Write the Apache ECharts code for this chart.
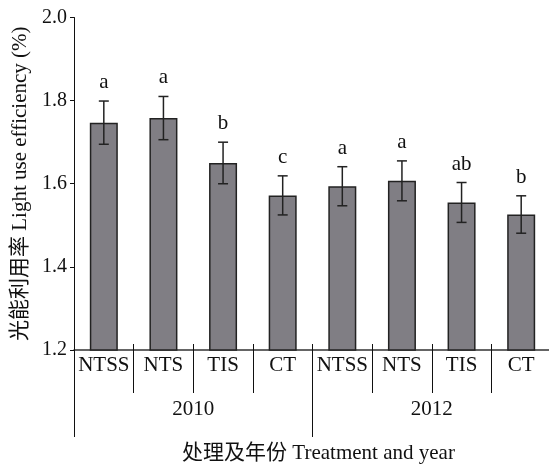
<!DOCTYPE html>
<html>
<head>
<meta charset="utf-8">
<script src="https://cdn.jsdelivr.net/npm/echarts@6/dist/echarts.min.js"></script>
<style>html,body{margin:0;padding:0;background:#fff;}#chart{width:549px;height:465px;}</style>
</head>
<body>
<div id="chart"></div>
<script>
const treatments = ['NTSS', 'NTS', 'TIS', 'CT', 'NTSS', 'NTS', 'TIS', 'CT'];
const years = ['2010', '2012'];
const lue = [1.747, 1.758, 1.650, 1.572, 1.594, 1.607, 1.555, 1.526];
const lueErr = [0.052, 0.052, 0.050, 0.047, 0.047, 0.048, 0.048, 0.045];
const letters = ['a', 'a', 'b', 'c', 'a', 'a', 'ab', 'b'];
const yTicks = [1.2, 1.4, 1.6, 1.8, 2.0];

const FONT = '"Liberation Serif", "Noto Sans CJK SC", serif';
const chart = echarts.init(document.getElementById('chart'));

const catIdx = treatments.map((_, i) => String(i));

chart.setOption({
  animation: false,
  backgroundColor: '#fff',
  grid: { left: 74, right: -2, top: 17.5, bottom: 115, containLabel: false, outerBoundsMode: 'none' },
  xAxis: [
    {
      type: 'category', data: catIdx, position: 'bottom',
      axisLine: { show: true, lineStyle: { color: '#333', width: 1.5 } },
      axisTick: { show: false },
      axisLabel: { formatter: (v) => treatments[+v], fontFamily: FONT, fontSize: 21, color: '#111', margin: 5, interval: 0 }
    },
    {
      type: 'category', data: catIdx, position: 'bottom', offset: -6,
      axisLine: { show: false },
      axisTick: { show: true, length: 49, lineStyle: { color: '#111', width: 1 } },
      axisLabel: { show: false }
    },
    {
      type: 'category', data: years, position: 'bottom',
      axisLine: { show: false },
      axisTick: { show: true, length: 87, lineStyle: { color: '#111', width: 1 } },
      axisLabel: { fontFamily: FONT, fontSize: 21, color: '#111', margin: 49 },
      name: '处理及年份 Treatment and year', nameLocation: 'middle', nameGap: 93,
      nameTextStyle: { fontFamily: FONT, fontSize: 21, color: '#111', padding: [0, 0, 0, 12] }
    }
  ],
  yAxis: {
    type: 'value', min: yTicks[0], max: yTicks[yTicks.length - 1], interval: 0.2,
    axisLine: { show: true, lineStyle: { color: '#111', width: 1 } },
    axisTick: { show: true, length: 4, lineStyle: { color: '#111' } },
    splitLine: { show: false },
    axisLabel: { formatter: (v) => v.toFixed(1), fontFamily: FONT, fontSize: 20, color: '#111', margin: 7 },
    name: '光能利用率 Light use efficiency (%)', nameLocation: 'middle', nameGap: 40,
    nameTextStyle: { fontFamily: FONT, fontSize: 21, color: '#111' }
  },
  series: [
    {
      type: 'bar', xAxisIndex: 0, data: lue, barWidth: 28,
      itemStyle: { color: '#807e84', borderColor: '#222', borderWidth: 1.5 }
    },
    {
      type: 'custom', xAxisIndex: 0, z: 10,
      data: lue.map((v, i) => [i, v - lueErr[i], v + lueErr[i]]),
      renderItem: function (params, api) {
        const i = api.value(0);
        const lo = api.coord([i, api.value(1)]);
        const hi = api.coord([i, api.value(2)]);
        const x = lo[0], hw = 5;
        const st = { stroke: '#222', lineWidth: 1.5 };
        return {
          type: 'group',
          children: [
            { type: 'line', shape: { x1: x, y1: lo[1], x2: x, y2: hi[1] }, style: st },
            { type: 'line', shape: { x1: x - hw, y1: lo[1], x2: x + hw, y2: lo[1] }, style: st },
            { type: 'line', shape: { x1: x - hw, y1: hi[1], x2: x + hw, y2: hi[1] }, style: st },
            { type: 'text', x: x, y: hi[1] - 8,
              style: { text: letters[params.dataIndex], fill: '#111', font: '21px ' + FONT, textAlign: 'center', textVerticalAlign: 'bottom' } }
          ]
        };
      }
    }
  ]
});
</script>
</body>
</html>
